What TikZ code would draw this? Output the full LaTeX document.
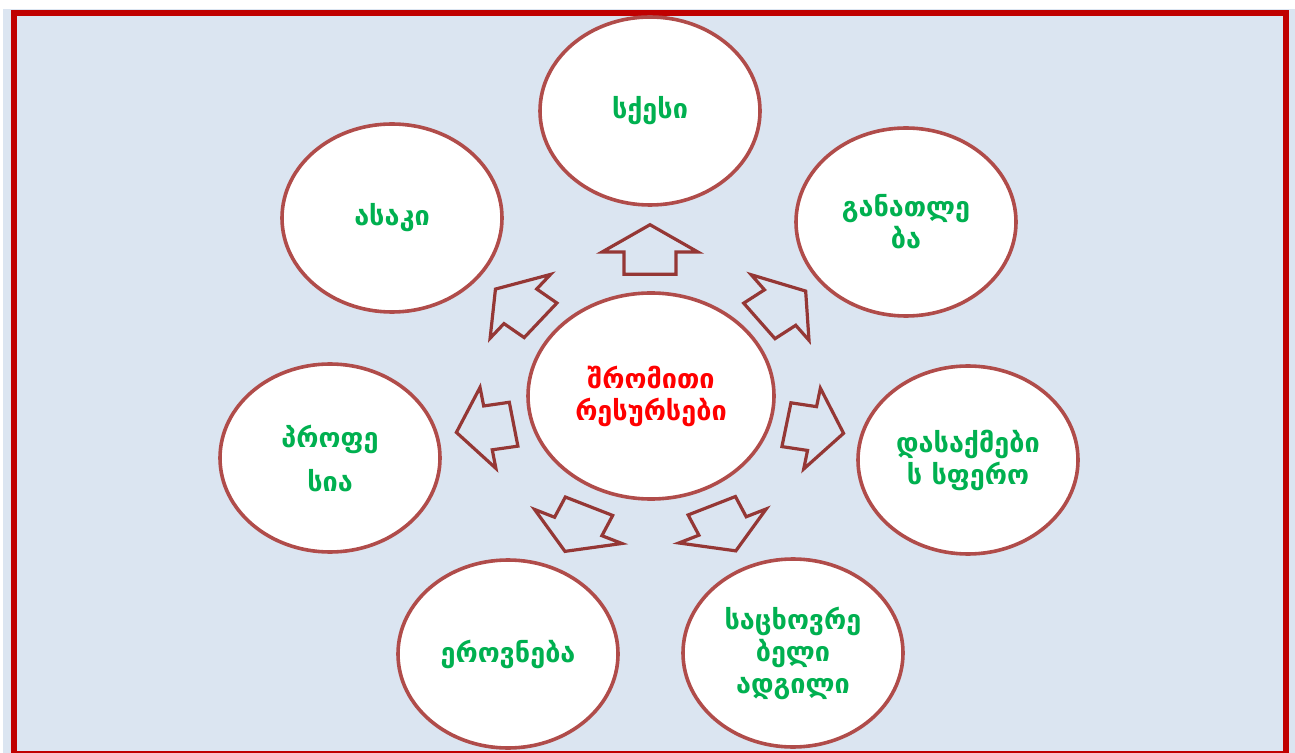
\documentclass[tikz,border=0pt]{standalone}
\usepackage{fontspec}
\setmainfont{DejaVu Sans}
\usetikzlibrary{shapes.geometric}

\definecolor{panelblue}{HTML}{DBE5F1}
\definecolor{framered}{HTML}{C00000}
\definecolor{ringred}{HTML}{B04C4A}
\definecolor{arrowred}{HTML}{953735}
\definecolor{leafgreen}{HTML}{00B050}

\begin{document}
\begin{tikzpicture}[x=0.5pt,y=-0.5pt,
    bubble/.style={ellipse, draw=ringred, line width=1.8pt, fill=white,
      minimum width=110pt, minimum height=94pt, inner sep=1pt,
      text=leafgreen, align=center, font=\bfseries\fontsize{13.5}{16}\selectfont},
    hub/.style={bubble, minimum width=123pt, minimum height=103pt, text=red},
    outarrow/.style={draw=arrowred, line width=1.6pt, line join=miter}]
      \useasboundingbox (0,0) rectangle (1295,753);
      \fill[white] (0,0) rectangle (1295,753);
      \fill[panelblue] (3,9) rectangle (1295,753);
      \draw[framered, line width=3pt] (14,13) rectangle (1285.7,754);

      \node[hub] (labour) at (651,396) {შრომითი\\რესურსები};
      \node[bubble] (sex) at (650,111) {სქესი};
      \node[bubble] (age) at (392,218) {ასაკი};
      \node[bubble] (education) at (906,222) {განათლე\\ბა};
      \node[bubble] (employment) at (968,460) {დასაქმები\\ს სფერო};
      \node[bubble] (residence) at (793,653) {საცხოვრე\\ბელი\\ადგილი};
      \node[bubble] (nationality) at (508,654) {ეროვნება};
      \node[bubble] (profession) at (330,458) {პროფე\\[6pt]სია};

      \draw[outarrow, shift={(650,249.5)}, yscale=0.855, rotate=90] (29,0) -- (-3,48) -- (-3,26) -- (-29,26) -- (-29,-26) -- (-3,-26) -- (-3,-48) -- cycle;
      \draw[outarrow, shift={(518,304.7)}, yscale=0.855, rotate=141] (29,0) -- (-3,48) -- (-3,26) -- (-29,26) -- (-29,-26) -- (-3,-26) -- (-3,-48) -- cycle;
      \draw[outarrow, shift={(782.5,306)}, yscale=0.855, rotate=37] (29,0) -- (-3,48) -- (-3,26) -- (-29,26) -- (-29,-26) -- (-3,-26) -- (-3,-48) -- cycle;
      \draw[outarrow, shift={(485,428.3)}, yscale=0.855, rotate=189.5] (29,0) -- (-3,48) -- (-3,26) -- (-29,26) -- (-29,-26) -- (-3,-26) -- (-3,-48) -- cycle;
      \draw[outarrow, shift={(815,429)}, yscale=0.855, rotate=-10] (29,0) -- (-3,48) -- (-3,26) -- (-29,26) -- (-29,-26) -- (-3,-26) -- (-3,-48) -- cycle;
      \draw[outarrow, shift={(577,528.8)}, yscale=0.855, rotate=245.5] (29,0) -- (-3,48) -- (-3,26) -- (-29,26) -- (-29,-26) -- (-3,-26) -- (-3,-48) -- cycle;
      \draw[outarrow, shift={(723.8,528.3)}, yscale=0.855, rotate=-65.5] (29,0) -- (-3,48) -- (-3,26) -- (-29,26) -- (-29,-26) -- (-3,-26) -- (-3,-48) -- cycle;
\end{tikzpicture}
\end{document}
